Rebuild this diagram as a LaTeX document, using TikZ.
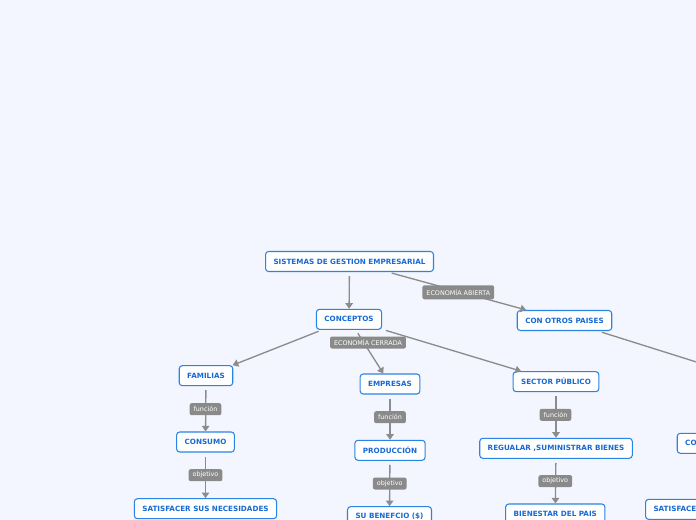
\documentclass[tikz,border=0pt]{standalone}
\usepackage{fontspec}
\setmainfont{DejaVu Sans}
\usetikzlibrary{arrows.meta}
\definecolor{bg}{HTML}{F3F6FE}
\definecolor{nodeblue}{HTML}{2A84E4}
\definecolor{txtblue}{HTML}{1769D4}
\definecolor{lnk}{HTML}{8C8C8C}
\definecolor{lblfill}{HTML}{8A8A8A}
\tikzset{
  box/.style={draw=nodeblue, fill=white, line width=0.8pt, rounded corners=2.3pt,
    text=txtblue, font=\bfseries\fontsize{5.4}{6.5}\selectfont,
    inner xsep=6pt, inner ysep=0pt, minimum height=15pt},
  lbl/.style={fill=lblfill, text=white, rounded corners=1.5pt,
    font=\fontsize{4.8}{5.5}\selectfont, inner xsep=3pt, inner ysep=0pt, minimum height=9pt},
  link/.style={draw=lnk, line width=1pt, -{Triangle[width=5.6pt,length=4.2pt]}, shorten <=3pt},
  plain/.style={draw=lnk, line width=1pt, shorten <=3pt}
}
\begin{document}
\begin{tikzpicture}[x=0.75pt,y=-0.75pt]
\useasboundingbox (0,0) rectangle (696,520);
\fill[bg] (0,0) rectangle (696,520);
\clip (0,0) rectangle (696,520);

% nodes
\node[box] (sis) at (349.5,261.5) {SISTEMAS DE GESTION EMPRESARIAL};
\node[box] (con) at (349,319.3) {CONCEPTOS};
\node[box] (ota) at (564.5,320.5) {CON OTROS PAISES};
\node[box] (fam) at (206,375.7) {FAMILIAS};
\node[box] (cons) at (205.5,442) {CONSUMO};
\node[box] (sat) at (205.5,508.7) {SATISFACER SUS NECESIDADES};
\node[box] (emp) at (390,384) {EMPRESAS};
\node[box] (pro) at (390,450.3) {PRODUCCIÓN};
\node[box] (ben) at (389.5,516.7) {SU BENEFCIO (\$)};
\node[box] (sec) at (556,381.7) {SECTOR PÚBLICO};
\node[box] (reg) at (556,448.3) {REGUALAR ,SUMINISTRAR BIENES};
\node[box] (bie) at (555.3,514) {BIENESTAR DEL PAIS};
\node[box, anchor=west, text width=60pt, align=left] (co) at (676.7,443.3) {CO};
\node[box, anchor=west, text width=80pt, align=left] (sa) at (645,509.3) {SATISFACE};
\coordinate (offr) at (760,382);

% connectors
\draw[link] (sis) -- (con);
\draw[link] (sis) -- (ota);
\draw[link] (con) -- (fam);
\draw[link] (con) -- (emp);
\draw[link] (con) -- (sec);
\draw[plain] (ota) -- (offr);
\draw[link] (fam) -- (cons);
\draw[link] (cons) -- (sat);
\draw[link] (emp) -- (pro);
\draw[link] (pro) -- (ben);
\draw[link] (sec) -- (reg);
\draw[link] (reg) -- (bie);

% labels
\node[lbl, minimum height=10.5pt] (l1) at (458.3,292.3) {ECONOMÍA ABIERTA};
\node[lbl] (l2) at (368,342.5) {ECONOMÍA CERRADA};
\node[lbl] (l3) at (205.5,409.2) {función};
\node[lbl] (l4) at (205.5,475.2) {objetivo};
\node[lbl] (l5) at (390,417.2) {función};
\node[lbl] (l6) at (389.7,483.5) {objetivo};
\node[lbl] (l7) at (555.5,414.8) {función};
\node[lbl] (l8) at (555.3,481.2) {objetivo};
\end{tikzpicture}
\end{document}
